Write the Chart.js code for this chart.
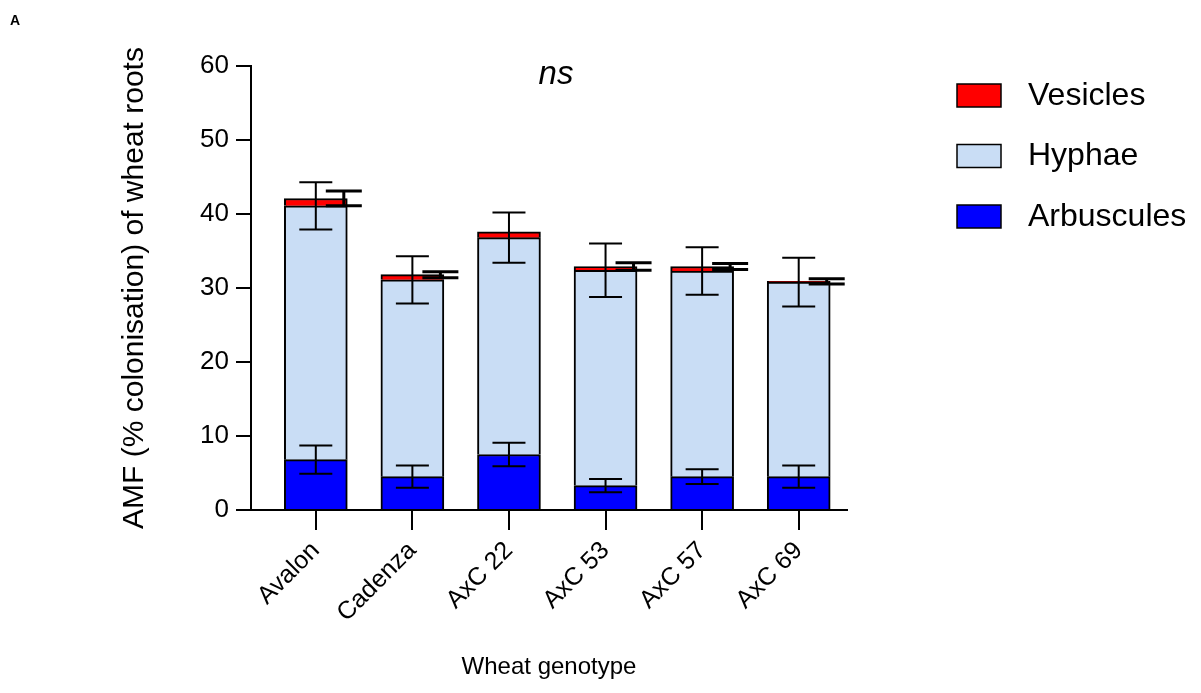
<!DOCTYPE html>
<html>
<head>
<meta charset="utf-8">
<script src="https://cdn.jsdelivr.net/npm/chart.js@4.4.1/dist/chart.umd.min.js"></script>
<style>
  html, body { margin: 0; padding: 0; background: #fff; }
  canvas { display: block; }
</style>
</head>
<body>
<canvas id="chart" width="1201" height="693"></canvas>
<script>
const genotypes  = ["Avalon", "Cadenza", "AxC 22", "AxC 53", "AxC 57", "AxC 69"];
const arbuscules = [6.8, 4.5, 7.5, 3.3, 4.5, 4.5];
const arbErr     = [1.9, 1.5, 1.6, 0.9, 1.0, 1.5];
const hyphae     = [34.3, 26.6, 29.3, 29.1, 27.8, 26.3];
const hyphErr    = [3.2, 3.2, 3.4, 3.6, 3.2, 3.3];
const vesicles   = [1.0, 0.7, 0.8, 0.5, 0.6, 0.1];
const vesErr     = [1.0, 0.4, 0, 0.5, 0.4, 0.35];
const yTicks     = [0, 10, 20, 30, 40, 50, 60];

const FONT = "'Liberation Sans', Arial, sans-serif";
Chart.defaults.font.family = FONT;
Chart.defaults.color = "#000";

const toPoints = arr => arr.map((v, i) => ({ x: i, y: v }));

// error bars drawn at the top of each stacked segment
const errorBars = {
  id: "errorBars",
  afterDatasetsDraw(chart) {
    const { ctx } = chart;
    const yScale = chart.scales.y;
    const totals = genotypes.map(() => 0);
    chart.data.datasets.forEach((ds, d) => {
      const meta = chart.getDatasetMeta(d);
      ds.data.forEach((pt, i) => {
        totals[i] += pt.y;
        const err = ds.errors[i];
        if (!err) return;
        const cx = meta.data[i].x + ds.errOffset;
        const top = yScale.getPixelForValue(totals[i] + err);
        const bot = yScale.getPixelForValue(totals[i] - err);
        const half = ds.capWidth / 2;
        ctx.save();
        ctx.strokeStyle = "#000";
        ctx.lineWidth = ds.errWidth;
        ctx.beginPath();
        ctx.moveTo(cx, top); ctx.lineTo(cx, bot);
        ctx.moveTo(cx - half, top); ctx.lineTo(cx + half, top);
        ctx.moveTo(cx - half, bot); ctx.lineTo(cx + half, bot);
        ctx.stroke();
        ctx.restore();
      });
    });
  }
};

// legend, "ns" and panel letter
const annotations = {
  id: "annotations",
  afterDraw(chart) {
    const { ctx } = chart;
    ctx.save();
    ctx.fillStyle = "#000";
    ctx.textBaseline = "alphabetic";
    ctx.textAlign = "left";
    ctx.font = "bold 14px " + FONT;
    ctx.fillText("A", 10, 25);

    ctx.textAlign = "center";
    ctx.font = "italic 33px " + FONT;
    ctx.fillText("ns", 556, 84);

    const items = chart.data.datasets.slice().reverse();
    ctx.textAlign = "left";
    ctx.textBaseline = "middle";
    ctx.font = "32px " + FONT;
    items.forEach((ds, k) => {
      const y = 84 + k * 60.5;
      ctx.fillStyle = ds.backgroundColor;
      ctx.fillRect(957, y, 44, 23);
      ctx.strokeStyle = "#000";
      ctx.lineWidth = 1.5;
      ctx.strokeRect(957, y, 44, 23);
      ctx.fillStyle = "#000";
      ctx.fillText(ds.label, 1028, y + 12);
    });
    ctx.restore();
  }
};

new Chart(document.getElementById("chart"), {
  type: "bar",
  data: {
    datasets: [
      { label: "Arbuscules", data: toPoints(arbuscules), errors: arbErr,
        backgroundColor: "#0000ff", errOffset: 0, capWidth: 33, errWidth: 2 },
      { label: "Hyphae", data: toPoints(hyphae), errors: hyphErr,
        backgroundColor: "#c9ddf5", errOffset: 0, capWidth: 33, errWidth: 2 },
      { label: "Vesicles", data: toPoints(vesicles), errors: vesErr,
        backgroundColor: "#ff0000", errOffset: 28, capWidth: 36, errWidth: 3 }
    ]
  },
  options: {
    responsive: false,
    animation: false,
    devicePixelRatio: 1,
    layout: { padding: { left: 0, right: 354, top: 66, bottom: 0 } },
    datasets: {
      bar: { barThickness: 63, borderColor: "#000", borderWidth: 2, borderSkipped: "start" }
    },
    plugins: { legend: { display: false }, tooltip: { enabled: false } },
    scales: {
      x: {
        type: "linear",
        stacked: true,
        offset: false,
        min: -0.671,
        max: 5.5,
        afterBuildTicks: s => { s.ticks = genotypes.map((_, i) => ({ value: i })); },
        afterFit: s => { s.height = 183; },
        ticks: {
          autoSkip: false,
          maxRotation: 45,
          minRotation: 45,
          padding: 6,
          font: { size: 25 },
          callback: v => genotypes[v]
        },
        grid: { offset: false, drawOnChartArea: false, drawTicks: true, tickLength: 20, color: "#000", lineWidth: 2 },
        border: { color: "#000", width: 2 },
        title: { display: true, text: "Wheat genotype", font: { size: 24 }, padding: { top: 0, bottom: 11 } }
      },
      y: {
        stacked: true,
        min: 0,
        max: 60,
        afterBuildTicks: s => { s.ticks = yTicks.map(v => ({ value: v })); },
        afterFit: s => { s.width = 251; },
        ticks: { padding: 7, font: { size: 26 } },
        grid: { drawOnChartArea: false, drawTicks: true, tickLength: 15, color: "#000", lineWidth: 2 },
        border: { color: "#000", width: 2 },
        title: { display: true, text: "AMF (% colonisation) of wheat roots",
                 font: { size: 30 }, padding: { top: 117, bottom: 0 } }
      }
    }
  },
  plugins: [errorBars, annotations]
});
</script>
</body>
</html>
